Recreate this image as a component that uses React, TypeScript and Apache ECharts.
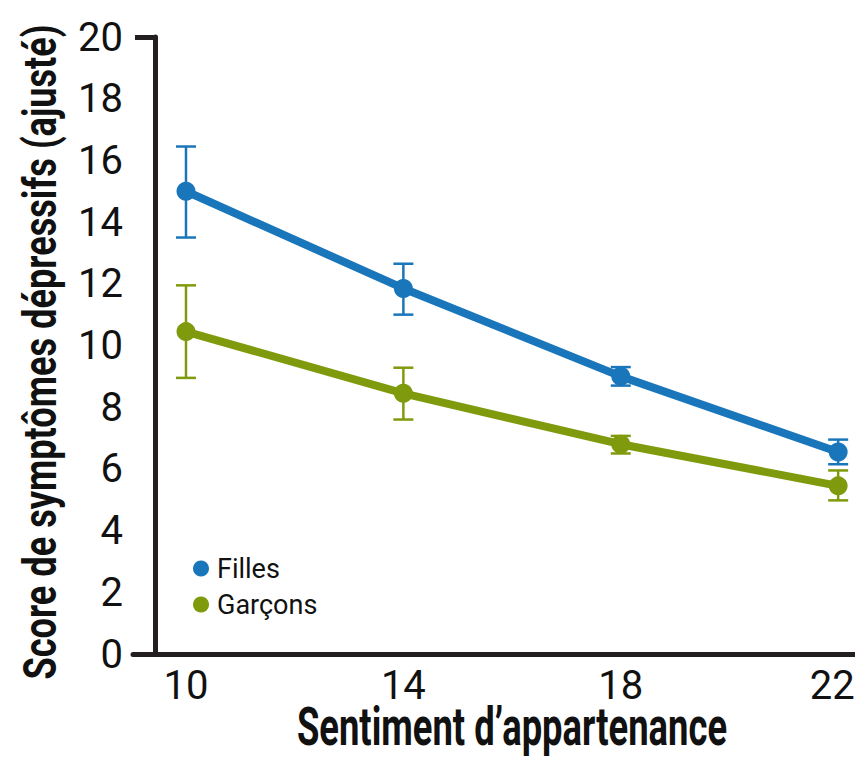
import React, { useEffect, useRef } from "react";
import * as echarts from "echarts";

const xValues = [10, 14, 18, 22];
const xTickLabels = [10, 14, 18, 22];
const fillesMean = [15.0, 11.85, 9.0, 6.55];
const fillesLow = [13.5, 11.0, 8.7, 6.15];
const fillesHigh = [16.45, 12.65, 9.3, 6.95];
const garconsMean = [10.45, 8.45, 6.8, 5.45];
const garconsLow = [8.95, 7.6, 6.5, 4.98];
const garconsHigh = [11.95, 9.28, 7.07, 5.95];
const xTitle = "Sentiment d’appartenance";
const yTitle = "Score de symptômes dépressifs (ajusté)";
const legendNames = ["Filles", "Garçons"];

const BLUE = "#1a76bb";
const GREEN = "#7f9a0c";
const AXIS = "#231f20";
const TEXT = "#111111";
const FONT = "Roboto, 'Liberation Sans', sans-serif";

function measure(text: string, font: string): number {
  const c = document.createElement("canvas");
  const ctx = c.getContext("2d");
  if (!ctx) return text.length * 20;
  ctx.font = font;
  return ctx.measureText(text).width;
}

function errorSeries(name: string, low: number[], high: number[], color: string) {
  return {
    type: "custom",
    name: name + "-err",
    z: 1,
    silent: true,
    data: xValues.map((x, i) => [x, low[i], high[i]]),
    renderItem: (params: any, api: any) => {
      const x = api.value(0);
      const lo = api.coord([x, api.value(1)]);
      const hi = api.coord([x, api.value(2)]);
      const half = 10;
      const style = { stroke: color, lineWidth: 2.5 };
      return {
        type: "group",
        children: [
          { type: "line", shape: { x1: lo[0], y1: lo[1], x2: hi[0], y2: hi[1] }, style },
          { type: "line", shape: { x1: lo[0] - half, y1: lo[1], x2: lo[0] + half, y2: lo[1] }, style },
          { type: "line", shape: { x1: hi[0] - half, y1: hi[1], x2: hi[0] + half, y2: hi[1] }, style },
        ],
      };
    },
  };
}

export default function App() {
  const ref = useRef<HTMLDivElement>(null);
  useEffect(() => {
    if (!ref.current) return;
    const chart = echarts.init(ref.current, null, { renderer: "svg" });
    const xFont = "bold 54px Roboto";
    const yFont = "bold 46px Roboto";
    const xScale = 430 / measure(xTitle, xFont);
    const yScale = 655 / measure(yTitle, yFont);
    chart.setOption({
      animation: false,
      backgroundColor: "#ffffff",
      grid: { left: 133, right: 0, top: 37, bottom: 103, containLabel: false, outerBoundsMode: "none" },
      legend: {
        orient: "vertical",
        left: 193,
        top: 555,
        padding: 0,
        icon: "circle",
        itemWidth: 16,
        itemHeight: 16,
        itemGap: 9,
        itemStyle: { borderWidth: 0 },
        data: legendNames,
        textStyle: { fontFamily: FONT, fontSize: 27, color: TEXT, padding: [0, 0, 0, 3] },
      },
      graphic: [
        {
          type: "text",
          x: 512,
          y: 726,
          scaleX: xScale,
          style: {
            text: xTitle,
            font: xFont,
            fill: TEXT,
            textAlign: "center",
            textVerticalAlign: "middle",
          },
        },
        {
          type: "text",
          x: 40,
          y: 352,
          rotation: Math.PI / 2,
          scaleX: yScale,
          style: {
            text: yTitle,
            font: yFont,
            fill: TEXT,
            textAlign: "center",
            textVerticalAlign: "middle",
          },
        },
      ],
      xAxis: {
        type: "value",
        min: 9.025,
        max: 22.31,
        axisLine: { show: true, lineStyle: { color: AXIS, width: 5 } },
        axisTick: { show: false },
        splitLine: { show: false },
        axisLabel: {
          customValues: xTickLabels,
          fontFamily: FONT,
          fontSize: 40,
          color: TEXT,
          margin: 11,
          formatter: (v: number) => (v === 22 ? "{e|" + v + "}" : String(v)),
          rich: { e: { fontFamily: FONT, fontSize: 40, color: TEXT, padding: [0, 12, 0, 0] } },
        },
      },
      yAxis: {
        type: "value",
        min: 0,
        max: 20,
        interval: 2,
        offset: -22,
        axisLine: { show: true, lineStyle: { color: AXIS, width: 5 } },
        axisTick: { show: true, customValues: [20], length: 20, lineStyle: { color: AXIS, width: 5 } },
        splitLine: { show: false },
        axisLabel: { fontFamily: FONT, fontSize: 40, color: TEXT, margin: 32, padding: [8, 0, 0, 0] },
      },
      series: [
        errorSeries("Filles", fillesLow, fillesHigh, BLUE),
        errorSeries("Garçons", garconsLow, garconsHigh, GREEN),
        {
          type: "line",
          name: legendNames[0],
          z: 3,
          data: xValues.map((x, i) => [x, fillesMean[i]]),
          symbol: "circle",
          symbolSize: 19,
          lineStyle: { color: BLUE, width: 8 },
          itemStyle: { color: BLUE },
        },
        {
          type: "line",
          name: legendNames[1],
          z: 3,
          data: xValues.map((x, i) => [x, garconsMean[i]]),
          symbol: "circle",
          symbolSize: 19,
          lineStyle: { color: GREEN, width: 8 },
          itemStyle: { color: GREEN },
        },
      ],
    });
    return () => chart.dispose();
  }, []);
  return (
    <div
      ref={ref}
      style={{ position: "fixed", left: 0, top: 0, width: 855, height: 757, background: "#fff" }}
    />
  );
}
